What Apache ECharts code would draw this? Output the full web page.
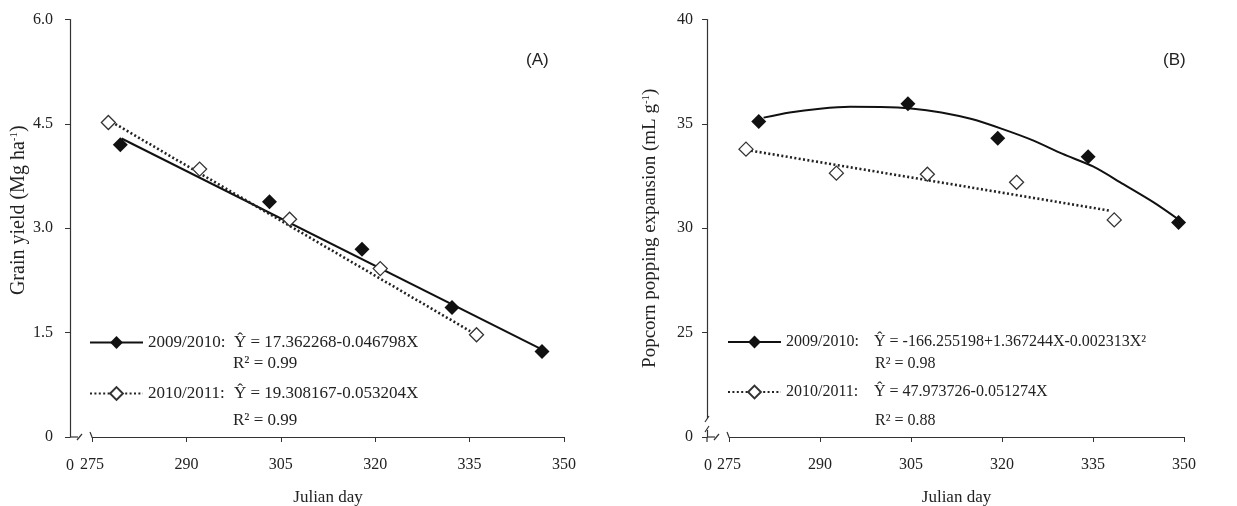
<!DOCTYPE html>
<html>
<head>
<meta charset="utf-8">
<script src="https://cdn.jsdelivr.net/npm/echarts@6/dist/echarts.min.js"></script>
<style>
html,body{margin:0;padding:0;background:#fff;}
#chart{width:1237px;height:506px;}
</style>
</head>
<body>
<div id="chart"></div>
<script>
// ---------- data ----------
const X_ORIGIN = 275;               // x axis starts at Julian day 275 (break from 0)
const xTickStep = 15;
// Panel A: grain yield (Mg ha-1)
const daysA0910 = [279.5, 303.2, 317.9, 332.2, 346.5];
const yieldA0910 = [4.20, 3.38, 2.70, 1.86, 1.23];
const daysA1011 = [277.6, 292.1, 306.4, 320.8, 336.1];
const yieldA1011 = [4.52, 3.85, 3.13, 2.42, 1.47];
const fitA0910Days = [279.7, 346.7];
const fitA0910Vals = [4.29, 1.25];
const fitA1011Days = [278.1, 335.1];
const fitA1011Vals = [4.53, 1.52];
// Panel B: popping expansion (mL g-1)
const daysB0910 = [279.9, 304.5, 319.3, 334.2, 349.1];
const popB0910 = [35.11, 35.96, 34.31, 33.43, 30.27];
const daysB1011 = [277.8, 292.7, 307.7, 322.4, 338.5];
const popB1011 = [33.79, 32.64, 32.59, 32.20, 30.40];
const fitB0910Days = [280.7, 285, 290, 295, 300, 305, 310, 315, 320, 325, 330, 335, 340, 345, 349.1];
const fitB0910Vals = [35.30, 35.55, 35.73, 35.82, 35.81, 35.74, 35.55, 35.23, 34.76, 34.22, 33.56, 32.96, 32.11, 31.24, 30.42];
const fitB1011Days = [277.9, 337.8];
const fitB1011Vals = [33.75, 30.84];
// axis settings / labels
const yTicksA = {min: 0, max: 6, interval: 1.5};
const yTicksB = {min: 20, max: 40, interval: 5};   // lowest tick shown as "0" (axis break)
const eqA0910 = 'Ŷ = 17.362268-0.046798X';
const eqA1011 = 'Ŷ = 19.308167-0.053204X';
const eqB0910 = 'Ŷ = -166.255198+1.367244X-0.002313X²';
const eqB1011 = 'Ŷ = 47.973726-0.051274X';
const r2A = ['0.99', '0.99'];
const r2B = ['0.98', '0.88'];
const seasons = ['2009/2010', '2010/2011'];

// ---------- helpers ----------
const pair = (xs, ys) => xs.map((d, i) => [d - X_ORIGIN, ys[i]]);
const SERIF = 'Liberation Serif';
const TXT = '#222';
const AX = '#333';

const xAxisBase = (gi) => ({
  type: 'value', gridIndex: gi, min: 0, max: 75, interval: xTickStep,
  name: 'Julian day', nameLocation: 'middle', nameGap: 52,
  nameTextStyle: {fontFamily: SERIF, fontSize: 17, color: TXT},
  axisLine: {onZero: false, lineStyle: {color: AX, width: 1.2}},
  axisTick: {show: true, inside: false, length: 5, lineStyle: {color: AX}},
  axisLabel: {fontFamily: SERIF, fontSize: 16, color: TXT, margin: 20,
    formatter: v => String(v + X_ORIGIN)},
  splitLine: {show: false}
});

const solidLine = {color: '#111', width: 2, type: 'solid'};
const dotLine = {color: '#222', width: 2.6, type: [2, 2.4]};
const filledItem = {color: '#111', opacity: 1};
const openItem = {color: '#fff', borderColor: '#333', borderWidth: 1.3, opacity: 1};

function panelSeries(gi, d09, v09, d10, v10, f09d, f09v, f10d, f10v, smooth09) {
  return [
    {name: seasons[0], type: 'line', xAxisIndex: gi, yAxisIndex: gi,
      data: pair(f09d, f09v), smooth: smooth09 ? 0.3 : false,
      symbol: 'diamond', showSymbol: false, lineStyle: solidLine, itemStyle: filledItem, z: 2},
    {name: seasons[1], type: 'line', xAxisIndex: gi, yAxisIndex: gi,
      data: pair(f10d, f10v), symbol: 'diamond', showSymbol: false,
      lineStyle: dotLine, itemStyle: openItem, z: 2},
    {name: seasons[0] + ' obs ' + gi, type: 'scatter', xAxisIndex: gi, yAxisIndex: gi,
      data: pair(d09, v09), symbol: 'diamond', symbolSize: 15, itemStyle: filledItem, z: 3},
    {name: seasons[1] + ' obs ' + gi, type: 'scatter', xAxisIndex: gi, yAxisIndex: gi,
      data: pair(d10, v10), symbol: 'diamond', symbolSize: 14, itemStyle: openItem, z: 4}
  ];
}

function legendFor(left, eqs, fs, labelW) {
  return {
    show: true, orient: 'vertical', left: left, top: 329, padding: 5,
    itemWidth: 53, itemHeight: 16, itemGap: 34, selectedMode: false,
    data: seasons,
    textStyle: {rich: {
      a: {fontFamily: SERIF, fontSize: fs, color: TXT, width: labelW, height: 18},
      b: {fontFamily: SERIF, fontSize: fs, color: TXT, height: 18}
    }},
    formatter: name => '{a|' + name + ':}{b|' + eqs[seasons.indexOf(name)] + '}'
  };
}

const r2Text = (x, y, v, fs) => ({
  type: 'text', left: x, top: y,
  style: {text: 'R² = ' + v, font: fs + 'px "Liberation Serif"', fill: TXT}
});
const seg = (x1, y1, x2, y2) => ({
  type: 'line', shape: {x1, y1, x2, y2}, style: {stroke: AX, lineWidth: 1.2}
});

const yAxisBase = (gi, ticks, name, gap, margin, fmt, nameFs, namePad) => ({
  type: 'value', gridIndex: gi, min: ticks.min, max: ticks.max, interval: ticks.interval,
  offset: 22,
  name: name, nameLocation: 'middle', nameGap: gap,
  nameTextStyle: {padding: namePad, rich: {t: {fontFamily: SERIF, fontSize: nameFs, color: TXT},
    s: {fontFamily: SERIF, fontSize: 11, color: TXT, verticalAlign: 'top'}}},
  axisLine: {show: true, onZero: false, lineStyle: {color: AX, width: 1.2}},
  axisTick: {show: true, length: 5, lineStyle: {color: AX}},
  axisLabel: {fontFamily: SERIF, fontSize: 16, color: TXT, margin: margin, formatter: fmt},
  splitLine: {show: false}
});

const option = {
  animation: false,
  backgroundColor: '#fff',
  grid: [
    {left: 92, right: 673, top: 19.5, bottom: 69, outerBoundsMode: 'none', containLabel: false},
    {left: 729, right: 53, top: 19.5, bottom: 69, outerBoundsMode: 'none', containLabel: false}
  ],
  xAxis: [xAxisBase(0), xAxisBase(1)],
  yAxis: [
    yAxisBase(0, yTicksA, '{t|Grain yield (Mg ha}{s|-1}{t|)}', 40, 17,
      v => v === 0 ? '0' : v.toFixed(1), 20, [0, 0, 0, 36]),
    yAxisBase(1, yTicksB, '{t|Popcorn popping expansion (mL g}{s|-1}{t|)}', 47, 14,
      v => v === yTicksB.min ? '0' : String(v), 19, 0)
  ],
  legend: [legendFor(84, [eqA0910, eqA1011], 17, 86), legendFor(722, [eqB0910, eqB1011], 16, 88)],
  series: [
    ...panelSeries(0, daysA0910, yieldA0910, daysA1011, yieldA1011,
      fitA0910Days, fitA0910Vals, fitA1011Days, fitA1011Vals, false),
    ...panelSeries(1, daysB0910, popB0910, daysB1011, popB1011,
      fitB0910Days, fitB0910Vals, fitB1011Days, fitB1011Vals, true)
  ],
  graphic: [
    // panel labels
    {type: 'text', left: 526, top: 52, style: {text: '(A)', font: '17px "Liberation Sans"', fill: TXT}},
    {type: 'text', left: 1163, top: 52, style: {text: '(B)', font: '17px "Liberation Sans"', fill: TXT}},
    // R² lines
    r2Text(233, 355, r2A[0], 17), r2Text(233, 412, r2A[1], 17),
    r2Text(875, 356, r2B[0], 16), r2Text(875, 413, r2B[1], 16),
    // x-axis "0" labels at the axis break
    {type: 'text', x: 70, y: 466, style: {text: '0', font: '16px "Liberation Serif"', fill: TXT, align: 'center', verticalAlign: 'middle'}},
    {type: 'text', x: 708, y: 466, style: {text: '0', font: '16px "Liberation Serif"', fill: TXT, align: 'center', verticalAlign: 'middle'}},
    // break marks panel A
    seg(70, 437, 78, 437), seg(77, 440, 82, 434), seg(92, 437, 90, 432),
    // break marks panel B
    {type: 'rect', shape: {x: 703, y: 418, width: 9, height: 12}, style: {fill: '#fff'}, z: 100},
    {type: 'line', shape: {x1: 705, y1: 422, x2: 709, y2: 416}, style: {stroke: AX, lineWidth: 1.2}, z: 101},
    {type: 'line', shape: {x1: 705, y1: 432, x2: 709, y2: 426}, style: {stroke: AX, lineWidth: 1.2}, z: 101},
    seg(707, 437, 715, 437), seg(707, 437, 707, 442), seg(714, 440, 719, 434), seg(729, 437, 727, 432)
  ]
};

const chart = echarts.init(document.getElementById('chart'), null, {renderer: 'canvas'});
chart.setOption(option);
</script>
</body>
</html>
